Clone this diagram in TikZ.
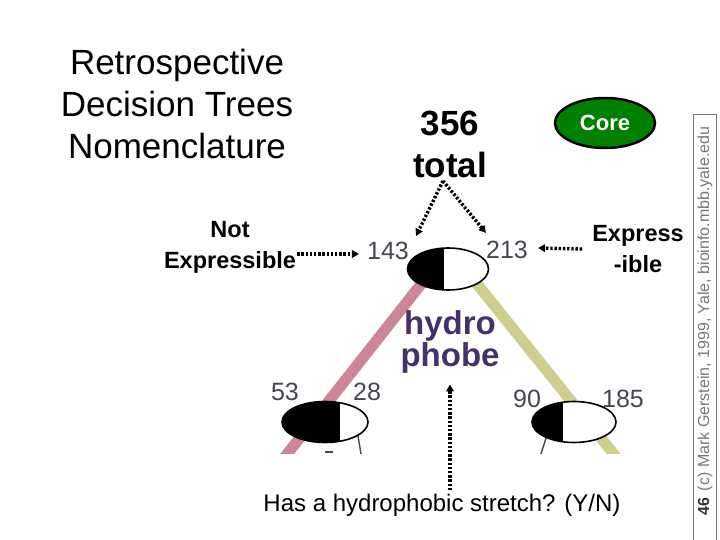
\documentclass[tikz,border=0pt]{standalone}
\usepackage{fontspec}
\setmainfont{Liberation Sans}
\usetikzlibrary{shapes.geometric,arrows.meta,backgrounds}

\definecolor{pinkbranch}{RGB}{204,134,152}
\definecolor{yellowbranch}{RGB}{206,206,142}
\definecolor{hydrotext}{RGB}{68,48,108}
\definecolor{numgray}{RGB}{70,70,82}
\definecolor{coregreen}{RGB}{0,128,0}
\definecolor{sidegray}{RGB}{120,120,120}

\tikzset{
  dotarrow/.style={line width=3.4pt, dash pattern=on 2.4pt off 1.8pt,
    -{Triangle[length=7pt,width=7.5pt]}},
  splitnode/.style={ellipse, draw=black, line width=1.6pt, fill=white,
    minimum width=84pt, minimum height=41pt, inner sep=0pt,
    path picture={\fill[black] (path picture bounding box.north west)
      rectangle ([xshift=#1]path picture bounding box.south west);}},
  count/.style={text=numgray, font=\fontsize{25}{25}\selectfont, inner sep=1pt},
  boldtext/.style={font=\bfseries\fontsize{23.5}{31}\selectfont, align=center, inner sep=1pt},
  leg/.style={draw=numgray, line width=1.4pt}
}

\begin{document}
\begin{tikzpicture}[x=1pt,y=-1pt]

\useasboundingbox (0,0) rectangle (720,540);

% Title
\node[font=\fontsize{35}{42}\selectfont, align=center] (title) at (177,104)
  {Retrospective\\Decision Trees\\Nomenclature};

% Total and core
\node[font=\bfseries\fontsize{35}{42}\selectfont, align=center] (total) at (450,144) {356\\total};
\node[ellipse, draw=black, line width=2.5pt, fill=coregreen, minimum width=100pt,
  minimum height=50pt, text=white, font=\bfseries\fontsize{22}{22}\selectfont] (core) at (605,123) {Core};

% Tree nodes
\node[splitnode=36pt, minimum width=81pt, minimum height=42pt] (root) at (448,269) {};
\node[splitnode=58pt, minimum width=86pt] (leftkid) at (325,422) {};
\node[splitnode=31pt] (rightkid) at (574,422) {};

% Counts
\node[count] (n143) at (388,251) {143};
\node[count] (n213) at (507,250) {213};
\node[count] (n53)  at (285,392) {53};
\node[count] (n28)  at (367,392) {28};
\node[count] (n90)  at (527,399) {90};
\node[count] (n185) at (623,399) {185};

% Split label
\node[font=\bfseries\fontsize{33}{30}\selectfont, text=hydrotext, align=center,
  inner sep=1pt] (hydro) at (450,342) {hydro\\phobe};

% Branches behind the nodes
\coordinate (pinkend) at (280,463);
\coordinate (yellowend) at (621,463);
\coordinate (legA) at (362,460);
\coordinate (legB) at (539,460);
\begin{scope}[on background layer]
  \clip (0,0) rectangle (720,453);
  \draw[pinkbranch, line width=11pt] ([xshift=-15pt]root.center) -- (pinkend);
  \draw[yellowbranch, line width=11pt] ([xshift=17pt]root.center) -- (yellowend);
  \draw[leg] (leftkid.337) -- (legA);
  \draw[leg] (rightkid.210) -- (legB);
  \draw[leg, line width=2pt] (325,452) -- (333,452);
\end{scope}

% Side labels
\node[boldtext] (notexp) at (230,247) {Not\\Expressible};
\node[boldtext] (express) at (638,249) {Express\\-ible};
\node[font=\fontsize{24}{24}\selectfont] (question) at (442,505) {Has a hydrophobic stretch? (Y/N)};

% Dotted arrows
\draw[dotarrow] ([xshift=-7pt]total.south) -- ([xshift=6pt,yshift=5pt]n143.north east);
\draw[dotarrow] ([xshift=-7pt]total.south) -- ([xshift=1pt,yshift=7pt]n213.north west);
\draw[dotarrow] ([yshift=-7pt]notexp.east) -- ([xshift=-7pt,yshift=-3pt]n143.west);
\draw[dotarrow] ([xshift=-9pt]express.west) -- ([xshift=9pt,yshift=2pt]n213.east);
\draw[dotarrow] (question.north -| hydro.south) -- ([yshift=-10pt]hydro.south);

% Side bar
\draw[sidegray, line width=1pt] (693,115) rectangle (716,545);
\node[rotate=90, anchor=west, text=sidegray, font=\fontsize{16}{16}\selectfont, inner sep=0pt]
  (credit) at (705,516) {\textbf{\color{black!80}46}\hspace{7pt}(c) Mark Gerstein, 1999, Yale, bioinfo.mbb.yale.edu};

\end{tikzpicture}
\end{document}
